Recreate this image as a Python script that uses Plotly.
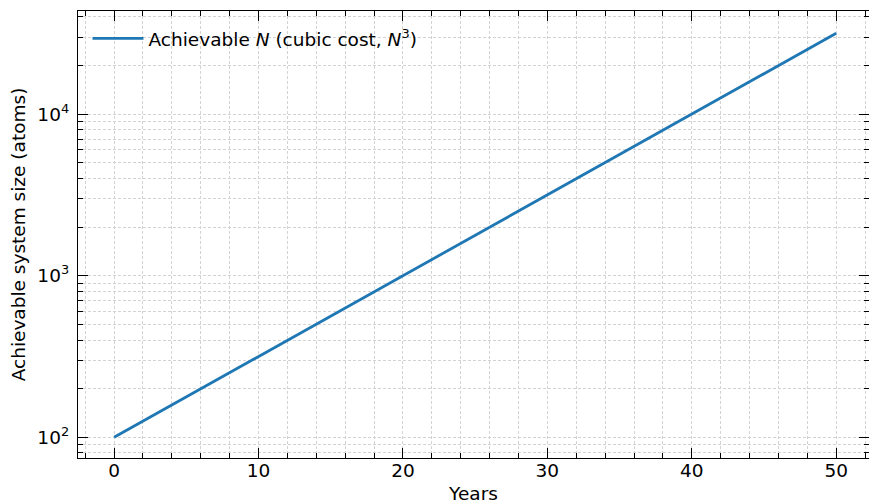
import plotly.graph_objects as go

years = [0, 5, 10, 15, 20, 25, 30, 35, 40, 45, 50]
achievable_n = [100, 178, 316, 562, 1000, 1778, 3162, 5623, 10000, 17783, 31623]
series_name = "Achievable <i>N</i> (cubic cost, <i>N</i><sup>3</sup>)"
x_tick_vals = [0, 10, 20, 30, 40, 50]
y_tick_vals = [100, 1000, 10000]
y_tick_text = ["10<sup>2</sup>", "10<sup>3</sup>", "10<sup>4</sup>"]
y_minor_vals = [m * 10 ** e for e in range(1, 5) for m in range(2, 10)]

FONT = "DejaVu Sans"
FS = 18.5
GRID = dict(gridcolor="#d3d3d3", griddash="3px,2px", gridwidth=0.8)

fig = go.Figure()
fig.add_trace(go.Scatter(
    x=years, y=achievable_n, mode="lines", name=series_name,
    line=dict(color="#1f77b4", width=2.8),
))

axis_common = dict(
    showline=True, linecolor="black", linewidth=1.3, mirror="allticks",
    ticks="inside", ticklen=10, tickwidth=1.2, tickcolor="black",
    showgrid=True, zeroline=False, automargin=False,
    tickfont=dict(family=FONT, size=FS, color="black"),
    **GRID,
)

fig.update_layout(
    width=869, height=504,
    margin=dict(l=78, r=0, t=11, b=46),
    paper_bgcolor="white", plot_bgcolor="white",
    font=dict(family=FONT, size=FS, color="black"),
    showlegend=True,
    legend=dict(x=0.012, y=0.98, xanchor="left", yanchor="top", itemwidth=51,
                bgcolor="rgba(255,255,255,0)", font=dict(family=FONT, size=FS)),
    xaxis=dict(
        **axis_common,
        range=[-2.5, 52.27], tickvals=x_tick_vals, ticklabelstandoff=-4,
        title=dict(text="Years", font=dict(family=FONT, size=FS), standoff=12),
        minor=dict(dtick=2, tick0=0, ticks="inside", ticklen=5, tickwidth=1.0,
                   tickcolor="black", showgrid=True, **GRID),
    ),
    yaxis=dict(
        **axis_common,
        type="log", range=[1.872, 4.638],
        tickvals=y_tick_vals, ticktext=y_tick_text, ticklabelstandoff=4,
        title=dict(text="Achievable system size (atoms)", font=dict(family=FONT, size=FS), standoff=6),
        minor=dict(tickvals=y_minor_vals, ticks="inside", ticklen=5, tickwidth=1.0,
                   tickcolor="black", showgrid=True, **GRID),
    ),
)

fig.write_html("out.html")
